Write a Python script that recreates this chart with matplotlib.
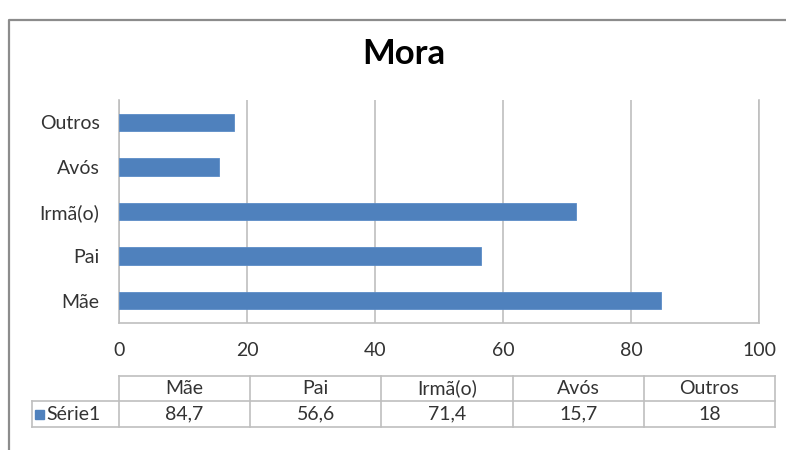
import matplotlib
matplotlib.use("Agg")
import matplotlib.pyplot as plt
from matplotlib.patches import Rectangle

plt.rcParams['font.family'] = ['Lato', 'DejaVu Sans']

categories = ["Mãe", "Pai", "Irmã(o)", "Avós", "Outros"]
values = [84.7, 56.6, 71.4, 15.7, 18]
value_labels = ["84,7", "56,6", "71,4", "15,7", "18"]
series_name = "Série1"
title = "Mora"
xticks = [0, 20, 40, 60, 80, 100]

W, H = 786, 450
BLUE = "#4F81BD"
GRID = "#BFBFBF"
TEXT = "#333333"
FS = 14

fig = plt.figure(figsize=(W / 100, H / 100), dpi=100)

# pixel-space overlay for frame and table
ov = fig.add_axes([0, 0, 1, 1])
ov.set_xlim(0, W)
ov.set_ylim(H, 0)
ov.axis("off")
ov.plot([8.5, 8.5, W + 5], [H + 5, 19.5, 19.5], color="#8C8C8C", lw=1.6,
        solid_capstyle="butt")

# bar chart
ax = fig.add_axes([119 / W, 1 - 323 / H, 640 / W, 223 / H])
ypos = list(range(len(categories)))
ax.barh(ypos, values, height=0.39, color=BLUE, edgecolor="#5B8CC7", lw=0.6,
        zorder=3)
ax.set_xlim(0, 100)
ax.set_ylim(-0.5, len(categories) - 0.5)
ax.set_yticks(ypos)
ax.set_yticklabels(categories, fontsize=FS, color=TEXT)
ax.set_xticks(xticks)
ax.set_xticklabels([str(t) for t in xticks], fontsize=FS, color=TEXT)
ax.tick_params(axis="both", length=0)
ax.tick_params(axis="y", pad=14)
ax.tick_params(axis="x", pad=14)
ax.grid(axis="x", color=GRID, lw=1.2, zorder=0)
ax.spines["top"].set_visible(False)
for side in ["left", "bottom", "right"]:
    ax.spines[side].set_color(GRID)
    ax.spines[side].set_linewidth(1.2)

fig.text(403.5 / W, 1 - 54 / H, title, ha="center", va="center",
         fontsize=25, fontweight="bold", color="#000000")

# data table below the axis
x_label0, x_label1 = 32, 119
x_right = 775
y0, y1, y2 = 376, 401, 427
ncol = len(categories)
cw = (x_right - x_label1) / ncol
lc = "#BFBFBF"
lw = 1.2
ov.plot([x_label1, x_right], [y0, y0], color=lc, lw=lw)
ov.plot([x_label0, x_right], [y1, y1], color=lc, lw=lw)
ov.plot([x_label0, x_right], [y2, y2], color=lc, lw=lw)
ov.plot([x_label0, x_label0], [y1, y2], color=lc, lw=lw)
for i in range(ncol + 1):
    xx = x_label1 + i * cw
    ov.plot([xx, xx], [y0, y2], color=lc, lw=lw)
for i, (cat, lab) in enumerate(zip(categories, value_labels)):
    cx = x_label1 + (i + 0.5) * cw
    ov.text(cx, (y0 + y1) / 2, cat, ha="center", va="center", fontsize=FS,
            color=TEXT)
    ov.text(cx, (y1 + y2) / 2, lab, ha="center", va="center", fontsize=FS,
            color=TEXT)
ov.add_patch(Rectangle((35, (y1 + y2) / 2 - 4.5), 9, 9, color=BLUE))
ov.text(46, (y1 + y2) / 2, series_name, ha="left", va="center", fontsize=FS,
        color=TEXT)

fig.savefig("out.png", dpi=100)
